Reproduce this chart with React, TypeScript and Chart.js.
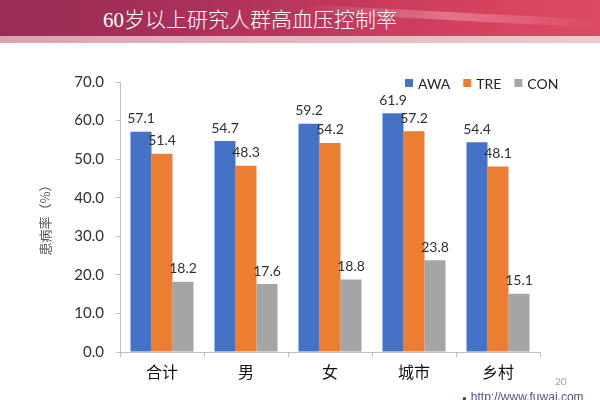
import React, { useEffect, useRef } from "react";
import { Chart, registerables } from "chart.js";

Chart.register(...registerables);

const categories = ["合计", "男", "女", "城市", "乡村"];
const seriesNames = ["AWA", "TRE", "CON"];
const awaValues = [57.1, 54.7, 59.2, 61.9, 54.4];
const treValues = [51.4, 48.3, 54.2, 57.2, 48.1];
const conValues = [18.2, 17.6, 18.8, 23.8, 15.1];
const seriesColors = ["#4472C4", "#ED7D31", "#A5A5A5"];
const yMin = 0;
const yMax = 70;
const yStep = 10;
const titleText = "60岁以上研究人群高血压控制率";
const yTitle = "患病率（%）";

const CJK = '"Noto Sans CJK SC", "Noto Sans", sans-serif';
const LATIN = 'Lato, "Noto Sans", "Noto Sans CJK SC", sans-serif';

const valueLabelPlugin = {
  id: "valueLabels",
  afterDatasetsDraw(chart: any) {
    const ctx = chart.ctx;
    ctx.save();
    ctx.font = `14px ${LATIN}`;
    ctx.fillStyle = "#303030";
    ctx.textAlign = "center";
    ctx.textBaseline = "middle";
    chart.data.datasets.forEach((ds: any, i: number) => {
      const meta = chart.getDatasetMeta(i);
      meta.data.forEach((el: any, j: number) => {
        ctx.fillText(Number(ds.data[j]).toFixed(1), el.x, el.y - 13);
      });
    });
    ctx.restore();
  },
};

const legendPlugin = {
  id: "customLegend",
  afterDraw(chart: any) {
    const ctx = chart.ctx;
    ctx.save();
    ctx.font = `14px ${LATIN}`;
    ctx.textBaseline = "middle";
    ctx.textAlign = "left";
    let x = 405;
    const y = 83;
    chart.data.datasets.forEach((ds: any) => {
      ctx.fillStyle = ds.backgroundColor;
      ctx.fillRect(x, y - 4, 8, 8);
      x += 13;
      ctx.fillStyle = "#222";
      ctx.fillText(ds.label, x, y + 1);
      x += ctx.measureText(ds.label).width + 13;
    });
    ctx.restore();
  },
};

export default function App() {
  const canvasRef = useRef<HTMLCanvasElement | null>(null);

  useEffect(() => {
    if (!canvasRef.current) return;
    const valueSets = [awaValues, treValues, conValues];
    const chart = new Chart(canvasRef.current, {
      type: "bar",
      data: {
        labels: categories,
        datasets: seriesNames.map((name, i) => ({
          label: name,
          data: valueSets[i],
          backgroundColor: seriesColors[i],
          borderWidth: 0,
          categoryPercentage: 0.75,
          barPercentage: 1.0,
        })),
      },
      options: {
        animation: false,
        responsive: false,
        maintainAspectRatio: false,
        layout: { padding: { left: 33, top: 82, right: 60, bottom: 13 } },
        plugins: {
          legend: { display: false },
          tooltip: { enabled: false },
          title: { display: false },
        },
        scales: {
          x: {
            afterFit: (s: any) => {
              s.height = 35;
            },
            grid: {
              display: true,
              offset: true,
              drawOnChartArea: false,
              drawTicks: true,
              tickLength: 5,
              color: "#BFBFBF",
            },
            border: { display: true, color: "#BFBFBF", width: 1 },
            ticks: {
              color: "#111",
              padding: 5,
              font: { size: 16, family: CJK },
            },
          },
          y: {
            min: yMin,
            max: yMax,
            afterFit: (s: any) => {
              s.width = 87;
            },
            grid: {
              display: true,
              drawOnChartArea: false,
              drawTicks: true,
              tickLength: 4,
              color: "#BFBFBF",
            },
            border: { display: true, color: "#BFBFBF", width: 1 },
            ticks: {
              stepSize: yStep,
              color: "#303030",
              padding: 12,
              font: { size: 15, family: LATIN },
              callback: (v: any) => Number(v).toFixed(1),
            },
            title: {
              display: true,
              text: yTitle,
              color: "#595959",
              font: { size: 13, family: CJK },
              padding: { top: 4, bottom: 4 },
            },
          },
        },
      },
      plugins: [valueLabelPlugin, legendPlugin],
    });
    return () => chart.destroy();
  }, []);

  return (
    <div
      style={{
        position: "fixed",
        left: 0,
        top: 0,
        width: 600,
        height: 400,
        background: "#ffffff",
        overflow: "hidden",
      }}
    >
      <div
        style={{
          position: "absolute",
          left: 0,
          top: 0,
          width: 600,
          height: 36,
          background:
            "linear-gradient(90deg, #992c55 0%, #a8305a 30%, #c53a5c 60%, #d9445f 85%, #dc4a64 100%)",
        }}
      />
      <div
        style={{
          position: "absolute",
          left: 300,
          top: 12,
          width: 300,
          height: 8,
          background:
            "linear-gradient(90deg, rgba(255,255,255,0) 0%, rgba(255,220,225,0.35) 50%, rgba(255,255,255,0) 100%)",
          transform: "rotate(3deg)",
        }}
      />
      <div
        style={{
          position: "absolute",
          left: 0,
          top: 36,
          width: 600,
          height: 7,
          background: "linear-gradient(90deg, #d9a2ae 0%, #e6b6c0 50%, #efc8cf 100%)",
        }}
      />
      <div
        style={{
          position: "absolute",
          left: 103,
          top: 6,
          color: "#ffffff",
          fontFamily: '"Liberation Serif", "Noto Sans CJK SC", serif',
          fontSize: 21,
          fontWeight: 300,
          lineHeight: "28px",
          whiteSpace: "nowrap",
        }}
      >
        {titleText}
      </div>
      <canvas
        ref={canvasRef}
        width={600}
        height={400}
        style={{ position: "absolute", left: 0, top: 0, width: 600, height: 400 }}
      />
      <div
        style={{
          position: "absolute",
          left: 555,
          top: 375,
          fontFamily: LATIN,
          fontSize: 10,
          color: "#a0a0a0",
        }}
      >
        20
      </div>
      <div
        style={{
          position: "absolute",
          left: 462,
          top: 390,
          fontFamily: '"Liberation Sans", sans-serif',
          fontSize: 12,
          color: "#5a4d86",
          whiteSpace: "nowrap",
        }}
      >
        <span style={{ color: "#8a2040", fontSize: 8, marginRight: 4 }}>●</span>
        http://www.fuwai.com
      </div>
    </div>
  );
}
